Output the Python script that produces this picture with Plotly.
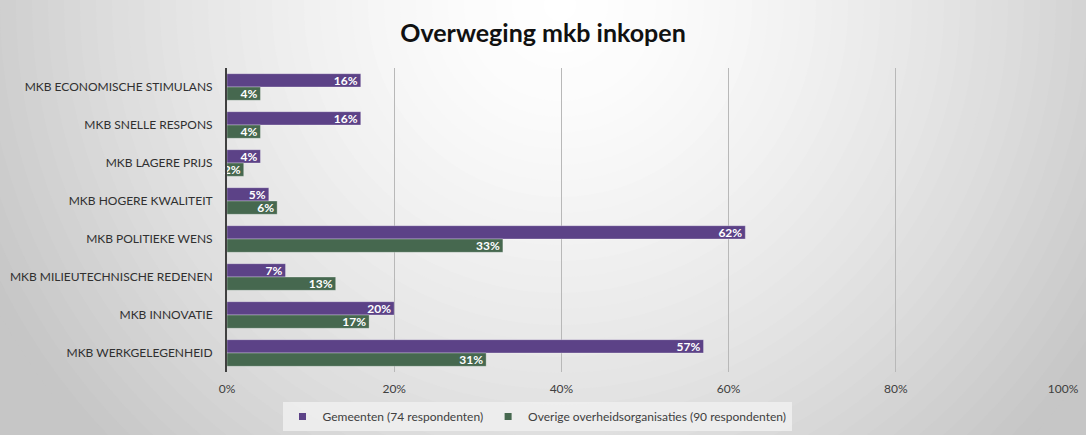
import plotly.graph_objects as go

categories = ["MKB ECONOMISCHE STIMULANS", "MKB SNELLE RESPONS", "MKB LAGERE PRIJS",
              "MKB HOGERE KWALITEIT", "MKB POLITIEKE WENS", "MKB MILIEUTECHNISCHE REDENEN",
              "MKB INNOVATIE", "MKB WERKGELEGENHEID"]
gemeenten = [16, 16, 4, 5, 62, 7, 20, 57]
overige = [4, 4, 2, 6, 33, 13, 17, 31]
series_names = ["Gemeenten (74 respondenten)", "Overige overheidsorganisaties (90 respondenten)"]
x_ticks = [0, 20, 40, 60, 80, 100]
x_tick_labels = ["0%", "20%", "40%", "60%", "80%", "100%"]

W, H = 1086, 435
L, R, T, B = 227, 1063, 68, 372
FONT = "Lato, 'Open Sans', sans-serif"
colors = ["#5c4287", "#46684f"]

fig = go.Figure()
for name, vals, col in [(series_names[0], gemeenten, colors[0]), (series_names[1], overige, colors[1])]:
    fig.add_trace(go.Bar(
        y=categories, x=vals, name=name, orientation="h", showlegend=False,
        marker=dict(color=col, line=dict(color="rgba(255,255,255,0.6)", width=0.5)),
        text=[f"{v}%" for v in vals], textposition="inside", insidetextanchor="end",
        textfont=dict(color="white", size=12, family=FONT, weight="bold"),
        cliponaxis=False, hoverinfo="x+y",
    ))
# legend entries with small square markers
for name, col in zip(series_names, colors):
    fig.add_trace(go.Scatter(x=[None], y=[None], mode="markers", name=name,
                             marker=dict(symbol="square", size=7, color=col)))

# radial background gradient approximation
shapes = []
cx, cy = 560, 5
pw, ph = R - L, B - T
n = 40
for i in range(n, 0, -1):
    d = 640 * i / n
    c = int(round(255 - 57 * (d / 640) ** 1.5))
    col = f"rgb({c},{c},{c})"
    shapes.append(dict(type="circle", xref="paper", yref="paper", layer="below",
                       x0=(cx - d - L) / pw, x1=(cx + d - L) / pw,
                       y0=(B - (cy + d)) / ph, y1=(B - (cy - d)) / ph,
                       fillcolor=col, line=dict(width=0)))

fig.update_layout(
    width=W, height=H,
    margin=dict(l=L, r=W - R, t=T, b=H - B, pad=0, autoexpand=False),
    paper_bgcolor="rgb(198,198,198)", plot_bgcolor="rgba(0,0,0,0)",
    shapes=shapes,
    barmode="group", bargap=0.3, bargroupgap=0.0,
    title=dict(text="<b>Overweging mkb inkopen</b>", x=0.5, xanchor="center", y=1 - 33 / H, yanchor="middle",
               font=dict(size=25, color="#111111", family=FONT)),
    font=dict(family=FONT, color="#404040", size=11),
    uniformtext=dict(minsize=12, mode="show"),
    legend=dict(orientation="h", x=(537 - L) / pw, xanchor="center", y=(B - 402) / ph, yanchor="top",
                bgcolor="rgba(238,238,238,0.9)", font=dict(size=12, color="#404040", family=FONT),
                traceorder="normal", itemwidth=30),
    showlegend=True,
)
fig.update_xaxes(range=[0, 100], tickvals=x_ticks, ticktext=x_tick_labels,
                 showgrid=True, gridcolor="#b8b8b8", gridwidth=1, zeroline=False,
                 ticks="", ticklabelstandoff=8, tickfont=dict(size=12, color="#404040"))
fig.update_yaxes(autorange="reversed", showline=True, linecolor="#404040", linewidth=2,
                 ticks="", ticklabelstandoff=10, tickfont=dict(size=12, color="#303030"))

fig.write_html("out.html", config={"displayModeBar": False},
               post_script="document.body.style.margin='0';document.body.style.overflow='hidden';")
